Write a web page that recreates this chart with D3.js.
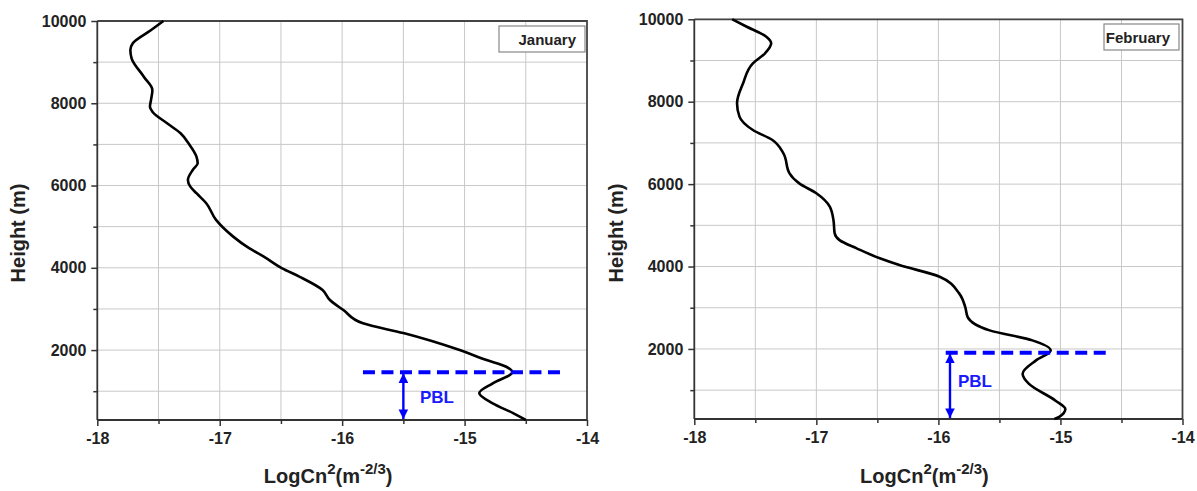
<!DOCTYPE html>
<html><head><meta charset="utf-8">
<script src="https://cdn.jsdelivr.net/npm/d3@7"></script>
<style>
body{margin:0;background:#fff;}
svg{display:block;font-family:"Liberation Sans",Arial,sans-serif;}
</style></head>
<body><svg id="c" width="1197" height="491"></svg>
<script>
// ---- data ----
const months = ["January", "February"];
const janHeight = [300, 462, 705, 956, 1192, 1466, 1595, 1757, 2000, 2414, 2650, 2973, 3217, 3460, 3786, 3987, 4272, 4476, 4758, 5164, 5570, 5813, 5973, 6136, 6379, 6542, 6702, 7027, 7271, 7514, 7796, 7917, 8100, 8323, 8646, 9093, 9295, 9458, 9780, 10000];
const janLogCn2 = [-14.50, -14.60, -14.77, -14.88, -14.77, -14.61, -14.66, -14.82, -15.04, -15.50, -15.83, -15.99, -16.10, -16.16, -16.35, -16.49, -16.64, -16.76, -16.89, -17.03, -17.11, -17.19, -17.24, -17.26, -17.22, -17.18, -17.19, -17.255, -17.32, -17.43, -17.55, -17.57, -17.56, -17.55, -17.62, -17.72, -17.73, -17.71, -17.56, -17.46];
const febHeight = [300, 350, 543, 745, 1157, 1400, 1723, 1965, 2208, 2451, 2774, 3017, 3349, 3753, 4036, 4199, 4442, 4640, 4806, 5130, 5453, 5777, 6019, 6262, 6748, 7070, 7313, 7638, 7961, 8447, 8932, 9175, 9417, 9578, 9820, 10000];
const febLogCn2 = [-15.05, -15.01, -14.96, -15.04, -15.26, -15.31, -15.20, -15.08, -15.23, -15.58, -15.76, -15.78, -15.83, -15.99, -16.32, -16.48, -16.67, -16.81, -16.85, -16.86, -16.89, -17.00, -17.14, -17.22, -17.27, -17.36, -17.52, -17.63, -17.65, -17.60, -17.52, -17.42, -17.37, -17.41, -17.57, -17.69];
const pblHeight = [1460, 1910];
const pblLineFrom = [-15.83, -15.94];
const pblLineTo = [-14.17, -14.58];
const pblArrowX = [-15.50, -15.905];
const xTicks = [-18, -17, -16, -15, -14];
const xTickLabels = ["-18", "-17", "-16", "-15", "-14"];
const xMinor = [-17.5, -16.5, -15.5, -14.5];
const yTicks = [2000, 4000, 6000, 8000, 10000];
const yTickLabels = ["2000", "4000", "6000", "8000", "10000"];
const yMinor = [1000, 3000, 5000, 7000, 9000];
const xDomain = [-18, -14];
const yDomain = [300, 10000];

// ---- layout ----
const layouts = [
  {x0: 97.3, x1: 587, yT: 21, yB: 420, ylabX: 25, leg: [499, 26, 86, 26], pblText: [420, 403]},
  {x0: 694.3, x1: 1182.5, yT: 19.3, yB: 419, ylabX: 623, leg: [1104, 24, 75, 26], pblText: [958, 387]}
];
const series = [[janHeight, janLogCn2], [febHeight, febLogCn2]];

const svg = d3.select("#c");
const defs = svg.append("defs");
["s", "e"].forEach(k => {
  defs.append("marker").attr("id", "arr" + k).attr("viewBox", "0 0 10 10")
    .attr("refX", 10).attr("refY", 5).attr("markerWidth", 4).attr("markerHeight", 4.2)
    .attr("orient", "auto-start-reverse").attr("markerUnits", "strokeWidth")
    .append("path").attr("d", "M0,0 L10,5 L0,10 Z").attr("fill", "#0000ff");
});

layouts.forEach((L, i) => {
  const x = d3.scaleLinear().domain(xDomain).range([L.x0, L.x1]);
  const y = d3.scaleLinear().domain(yDomain).range([L.yB, L.yT]);
  const g = svg.append("g");

  // grid
  const gx = d3.range(-17.5, -14.01, 0.5);
  const gy = d3.range(1000, 10001, 1000);
  g.append("g").selectAll("line").data(gx).join("line")
    .attr("x1", d => x(d)).attr("x2", d => x(d)).attr("y1", L.yT).attr("y2", L.yB)
    .attr("stroke", "#c8c8c8").attr("stroke-width", 1);
  g.append("g").selectAll("line").data(gy).join("line")
    .attr("y1", d => y(d)).attr("y2", d => y(d)).attr("x1", L.x0).attr("x2", L.x1)
    .attr("stroke", "#c8c8c8").attr("stroke-width", 1);

  // frame top/right
  g.append("path").attr("d", `M${L.x0},${L.yT}H${L.x1}V${L.yB}`)
    .attr("fill", "none").attr("stroke", "#444").attr("stroke-width", 1.8);

  // axes
  const ax = g.append("g").attr("transform", `translate(0,${L.yB})`)
    .call(d3.axisBottom(x).tickValues(xTicks).tickSize(6).tickSizeOuter(0).tickPadding(7)
      .tickFormat((d, j) => xTickLabels[j]));
  g.append("g").attr("transform", `translate(0,${L.yB})`)
    .call(d3.axisBottom(x).tickValues(xMinor).tickSize(4).tickSizeOuter(0).tickFormat(""))
    .select(".domain").remove();
  const ay = g.append("g").attr("transform", `translate(${L.x0},0)`)
    .call(d3.axisLeft(y).tickValues(yTicks).tickSize(6).tickSizeOuter(0).tickPadding(5)
      .tickFormat((d, j) => yTickLabels[j]));
  g.append("g").attr("transform", `translate(${L.x0},0)`)
    .call(d3.axisLeft(y).tickValues(yMinor).tickSize(4).tickSizeOuter(0).tickFormat(""))
    .select(".domain").remove();
  g.selectAll(".domain").attr("stroke", "#333").attr("stroke-width", 1.8);
  g.selectAll(".tick line").attr("stroke", "#333").attr("stroke-width", 1.5);
  g.selectAll(".tick text").style("font-size", "16px").style("font-weight", "bold")
    .attr("fill", "#222").style("font-family", "Liberation Sans, Arial, sans-serif");
  ax.select(".domain").attr("d", `M${L.x0},0H${L.x1}`);
  ay.select(".domain").attr("d", `M0,${L.yB}V${L.yT}`);

  // curve
  const [hs, vs] = series[i];
  const pts = hs.map((h, k) => [vs[k], h]).reverse();
  g.append("path").datum(pts)
    .attr("d", d3.line().x(d => x(d[0])).y(d => y(d[1])).curve(d3.curveMonotoneY))
    .attr("fill", "none").attr("stroke", "#000").attr("stroke-width", 2.6)
    .attr("stroke-linejoin", "round");

  // PBL
  g.append("line").attr("x1", x(pblLineFrom[i])).attr("x2", x(pblLineTo[i]))
    .attr("y1", y(pblHeight[i])).attr("y2", y(pblHeight[i]))
    .attr("stroke", "#0000ff").attr("stroke-width", 4).attr("stroke-dasharray", "12,6.5");
  g.append("line").attr("x1", x(pblArrowX[i])).attr("x2", x(pblArrowX[i]))
    .attr("y1", y(pblHeight[i]) + 1).attr("y2", y(yDomain[0]) - 1)
    .attr("stroke", "#0000ff").attr("stroke-width", 2.4)
    .attr("marker-start", "url(#arrs)").attr("marker-end", "url(#arre)");
  g.append("text").attr("x", L.pblText[0]).attr("y", L.pblText[1])
    .attr("font-size", 17).attr("font-weight", "bold").attr("fill", "#1a1aff").text("PBL");

  // legend
  const [lx, ly, lw, lh] = L.leg;
  g.append("rect").attr("x", lx).attr("y", ly).attr("width", lw).attr("height", lh)
    .attr("fill", "#fff").attr("stroke", "#888").attr("stroke-width", 1.2);
  g.append("text").attr("x", lx + lw - 9).attr("y", ly + lh / 2 + 5.5).attr("text-anchor", "end")
    .attr("font-size", 15).attr("font-weight", "bold").attr("fill", "#222").text(months[i]);

  // y label
  g.append("text").attr("transform", `translate(${L.ylabX},233) rotate(-90)`)
    .attr("text-anchor", "middle").attr("font-size", 20).attr("font-weight", "bold")
    .attr("fill", "#222").text("Height (m)");

  // x label
  const t = g.append("text").attr("x", (L.x0 + L.x1) / 2 - 14).attr("y", 483)
    .attr("text-anchor", "middle").attr("font-size", 20).attr("font-weight", "bold").attr("fill", "#222");
  t.append("tspan").text("LogCn");
  t.append("tspan").attr("font-size", 15).attr("dy", -9).text("2");
  t.append("tspan").attr("dy", 9).text("(m");
  t.append("tspan").attr("font-size", 15).attr("dy", -9).text("-2/3");
  t.append("tspan").attr("dy", 9).text(")");
});
</script></body></html>
